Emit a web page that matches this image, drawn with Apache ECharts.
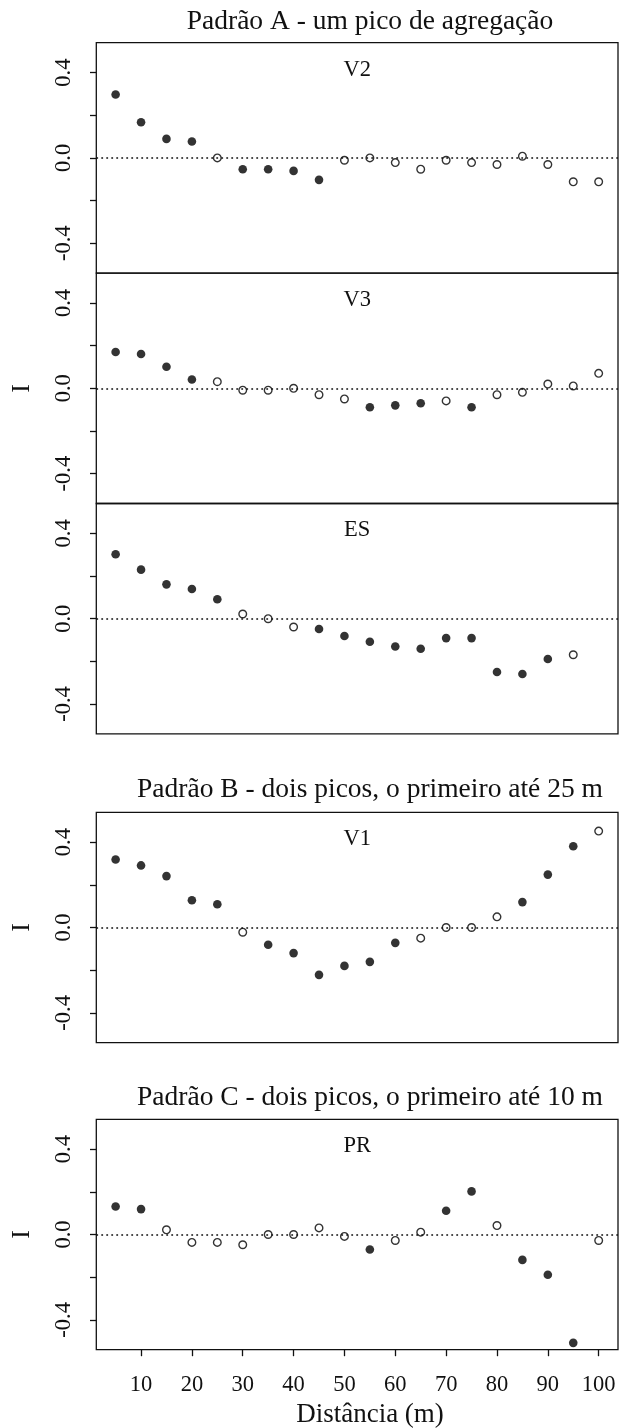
<!DOCTYPE html>
<html><head><meta charset="utf-8">
<script src="https://cdn.jsdelivr.net/npm/echarts@6/dist/echarts.min.js"></script>
<style>html,body{margin:0;padding:0;background:#fff}#c{width:620px;height:1428px}</style>
</head><body><div id="c"></div>
<script>
// ---- data ----
const distances = [5,10,15,20,25,30,35,40,45,50,55,60,65,70,75,80,85,90,95,100];
const xTicks = [10,20,30,40,50,60,70,80,90,100];
const yTicks = [-0.4,-0.2,0,0.2,0.4];
const yTickLabels = [-0.4,0,0.4];
const panelNames = ['V2','V3','ES','V1','PR'];
const groupTitles = ['Padrão A - um pico de agregação','Padrão B - dois picos, o primeiro até 25 m','Padrão C - dois picos, o primeiro até 10 m'];
const xTitle = 'Distância (m)';
const yTitle = 'I';

const V2 = [0.297,0.167,0.089,0.077,0.000,-0.053,-0.053,-0.061,-0.103,-0.011,0.000,-0.022,-0.053,-0.011,-0.022,-0.031,0.008,-0.031,-0.112,-0.112];
const V2sig = [1,1,1,1,0,1,1,1,1,0,0,0,0,0,0,0,0,0,0,0];
const V3 = [0.170,0.161,0.101,0.041,0.031,-0.009,-0.009,0.000,-0.030,-0.050,-0.089,-0.080,-0.070,-0.059,-0.089,-0.030,-0.019,0.020,0.011,0.070];
const V3sig = [1,1,1,1,0,0,0,0,0,0,1,1,1,0,1,0,0,0,0,0];
const ES = [0.302,0.230,0.161,0.139,0.091,0.022,0.000,-0.039,-0.048,-0.081,-0.108,-0.130,-0.141,-0.091,-0.091,-0.250,-0.259,-0.189,-0.169,-0.551];
const ESsig = [1,1,1,1,1,0,0,0,1,1,1,1,1,1,1,1,1,1,0,1];
const V1 = [0.319,0.291,0.241,0.128,0.109,-0.022,-0.081,-0.120,-0.222,-0.180,-0.161,-0.072,-0.050,0.000,0.000,0.050,0.119,0.248,0.381,0.452];
const V1sig = [1,1,1,1,1,0,1,1,1,1,1,1,0,0,0,0,1,1,1,0];
const PR = [0.131,0.119,0.022,-0.037,-0.037,-0.048,0.000,0.000,0.031,-0.009,-0.070,-0.028,0.011,0.111,0.202,0.042,-0.119,-0.189,-0.508,-0.028];
const PRsig = [1,1,0,0,0,0,0,0,0,0,1,0,0,1,1,0,1,1,1,0];

const panelValues = [V2,V3,ES,V1,PR];
const panelSig = [V2sig,V3sig,ESsig,V1sig,PRsig];

// ---- layout ----
const FONT = 'Liberation Serif';
const INK = '#111';
const gridTops = [42.7, 273.1, 503.5, 812.3, 1119.3];
const gridH = 230.4, gridL = 96.3, gridR = 2;
const X_MIN = 1.2, X_MAX = 103.8, Y_MIN = -0.54, Y_MAX = 0.54;
const plotCx = gridL + (620 - gridL - gridR) / 2;

const grids = [], xAxes = [], yAxes = [], series = [], graphics = [];
gridTops.forEach((top, i) => {
  const last = i === gridTops.length - 1;
  grids.push({left: gridL, right: gridR, top: top, height: gridH, show: true,
    borderColor: INK, borderWidth: 1.3, backgroundColor: 'transparent', containLabel: false});
  xAxes.push({type: 'value', gridIndex: i, min: X_MIN, max: X_MAX,
    axisLine: {show: false, onZero: false}, splitLine: {show: false},
    axisTick: {show: last, customValues: xTicks, length: 6.5, lineStyle: {color: INK, width: 1.3}},
    axisLabel: {show: last, customValues: xTicks, margin: 24, fontSize: 22.5, fontFamily: FONT, color: INK}});
  yAxes.push({type: 'value', gridIndex: i, min: Y_MIN, max: Y_MAX,
    axisLine: {show: false, onZero: false}, splitLine: {show: false},
    axisTick: {show: true, customValues: yTicks, length: 6.3, lineStyle: {color: INK, width: 1.3}},
    axisLabel: {show: true, customValues: yTickLabels, rotate: 90, margin: 21, fontSize: 22.5, fontFamily: FONT, color: INK,
      formatter: v => (Math.abs(v) < 1e-9 ? 0 : v).toFixed(1)}});
  const vals = panelValues[i], sig = panelSig[i];
  const filled = [], open = [];
  distances.forEach((d, k) => { (sig[k] ? filled : open).push([d, vals[k]]); });
  series.push({type: 'scatter', xAxisIndex: i, yAxisIndex: i, data: open, clip: true,
    symbol: 'circle', symbolSize: 7.6, z: 3,
    itemStyle: {color: 'rgba(255,255,255,0)', borderColor: '#000', borderWidth: 1.4},
    emphasis: {disabled: true}, animation: false,
    markLine: {silent: true, symbol: ['none','none'], animation: false, label: {show: false},
      lineStyle: {type: [1.8, 3.2], color: INK, width: 1.5}, emphasis: {disabled: true},
      data: [{yAxis: 0}]}});
  series.push({type: 'scatter', xAxisIndex: i, yAxisIndex: i, data: filled, clip: true,
    symbol: 'circle', symbolSize: 8.6, z: 4,
    itemStyle: {color: '#000'}, emphasis: {disabled: true}, animation: false});
  graphics.push({type: 'text', x: plotCx, y: top + 27,
    style: {text: panelNames[i], font: '22.5px "' + FONT + '"', fill: INK, align: 'center', verticalAlign: 'middle'}});
});

const titleX = 370;
[21.3, 789.7, 1097.5].forEach((y, j) => {
  graphics.push({type: 'text', x: titleX, y: y,
    style: {text: groupTitles[j], font: '27.5px "' + FONT + '"', fill: INK, align: 'center', verticalAlign: 'middle'}});
});
graphics.push({type: 'text', x: titleX, y: 1414.7,
  style: {text: xTitle, font: '27px "' + FONT + '"', fill: INK, align: 'center', verticalAlign: 'middle'}});
[1, 3, 4].forEach(i => {
  graphics.push({type: 'text', x: 21.7, y: gridTops[i] + gridH / 2, rotation: Math.PI / 2,
    style: {text: yTitle, font: '26px "' + FONT + '"', fill: INK, align: 'center', verticalAlign: 'middle'}});
});

const chart = echarts.init(document.getElementById('c'), null, {renderer: 'canvas'});
chart.setOption({
  animation: false,
  backgroundColor: '#fff',
  grid: grids, xAxis: xAxes, yAxis: yAxes, series: series, graphic: graphics
});
</script></body></html>
